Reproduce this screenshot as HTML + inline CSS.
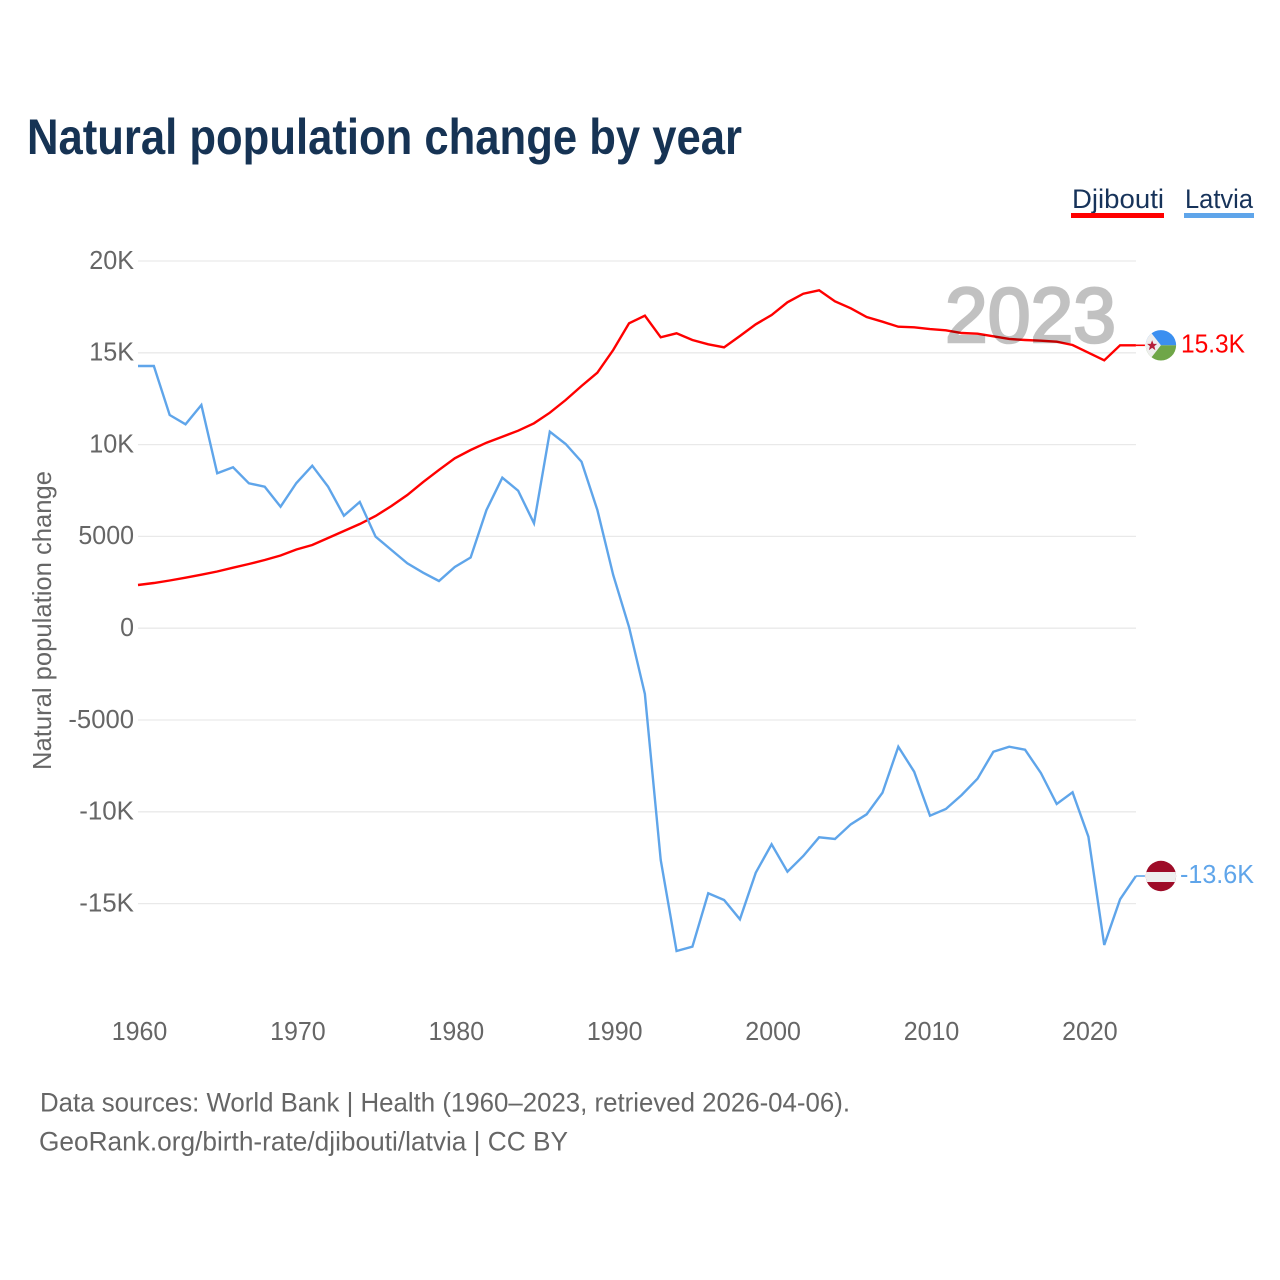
<!DOCTYPE html>
<html lang="en">
<head>
<meta charset="utf-8">
<title>Natural population change by year</title>
<style>
html,body{margin:0;padding:0;background:#fff;}
svg{display:block;font-family:"Liberation Sans",sans-serif;}
</style>
</head>
<body>
<svg id="chart" xmlns="http://www.w3.org/2000/svg" width="1280" height="1280" viewBox="0 0 1280 1280">
  <defs>
    <clipPath id="flag-clip"><circle cx="0" cy="0" r="15.2"></circle></clipPath>
  </defs>
  <rect width="1280" height="1280" fill="#fff"></rect>
  <text x="27" y="154" font-size="50" font-weight="700" fill="#163354" textLength="715" lengthAdjust="spacingAndGlyphs">Natural population change by year</text>

  <text x="1072" y="208" font-size="27" fill="#17335a" textLength="92" lengthAdjust="spacingAndGlyphs">Djibouti</text>
  <rect x="1071" y="213" width="93" height="5" fill="#ff0000"></rect>
  <text x="1185" y="208" font-size="27" fill="#17335a" textLength="68" lengthAdjust="spacingAndGlyphs">Latvia</text>
  <rect x="1184" y="213" width="70" height="5" fill="#5fa5ea"></rect>

  <g id="grid"></g>
  <g id="y-ticks"></g>
  <g id="x-ticks"></g>
  <text transform="translate(51,770) rotate(-90)" font-size="26" fill="#666" textLength="299" lengthAdjust="spacingAndGlyphs">Natural population change</text>

  <g id="series"></g>

  <g opacity="0.24">
    <text x="945" y="342" font-size="78" fill="#000" stroke="#000" stroke-width="2.6" textLength="171" lengthAdjust="spacingAndGlyphs">2023</text>
  </g>

  <g id="flag-djibouti">
    <g clip-path="url(#flag-clip)">
      <rect x="-16" y="-16" width="32" height="16" fill="#3b8ff0"></rect>
      <rect x="-16" y="0" width="32" height="16" fill="#6fa648"></rect>
      <polygon points="-18,-16 -12.5,-16 0,0 -12.5,16 -18,16" fill="#eeeeee"></polygon>
      <polygon points="-8.8,-5 -7.4,-1.4 -3.8,-1.4 -6.6,1 -5.6,4.8 -8.8,2.6 -12,4.8 -11,1 -13.8,-1.4 -10.2,-1.4" fill="#b5203a"></polygon>
    </g>
  </g>
  <text id="label-djibouti" x="1181" font-size="26" fill="#ff0000" textLength="64" lengthAdjust="spacingAndGlyphs">15.3K</text>

  <g id="flag-latvia">
    <g clip-path="url(#flag-clip)">
      <rect x="-16" y="-16" width="32" height="32" fill="#9e0c28"></rect>
      <rect x="-16" y="-4" width="32" height="10" fill="#eeeeee"></rect>
    </g>
  </g>
  <text id="label-latvia" x="1180" font-size="26" fill="#5fa5ea" textLength="74" lengthAdjust="spacingAndGlyphs">-13.6K</text>

  <text x="40" y="1111.5" font-size="27" fill="#666" textLength="810" lengthAdjust="spacingAndGlyphs">Data sources: World Bank | Health (1960–2023, retrieved 2026-04-06).</text>
  <text x="39" y="1150.5" font-size="27" fill="#666" textLength="529" lengthAdjust="spacingAndGlyphs">GeoRank.org/birth-rate/djibouti/latvia | CC BY</text>
</svg>
<script>
const startYear = 1960;
const yTickValues = [20000, 15000, 10000, 5000, 0, -5000, -10000, -15000];
const yTickLabels = ['20K', '15K', '10K', '5000', '0', '-5000', '-10K', '-15K'];
const xTickYears = [1960, 1970, 1980, 1990, 2000, 2010, 2020];
const xTickLabels = ['1960', '1970', '1980', '1990', '2000', '2010', '2020'];
const djibouti = [2353,2462,2598,2751,2914,3088,3295,3497,3715,3960,4286,4532,4913,5294,5675,6111,6656,7255,7960,8620,9254,9706,10103,10430,10757,11160,11737,12429,13192,13916,15152,16607,17021,15844,16062,15697,15463,15299,15915,16552,17059,17750,18219,18404,17805,17424,16950,16694,16421,16389,16296,16225,16078,16040,15899,15752,15697,15659,15605,15425,15005,14591,15408,15408];
const latvia = [14281,14281,11612,11106,12157,8437,8764,7892,7707,6618,7908,8851,7707,6127,6874,4984,4259,3535,3023,2571,3333,3851,6438,8197,7489,5713,10703,10033,9069,6438,2898,65,-3584,-12625,-17581,-17347,-14439,-14804,-15855,-13317,-11770,-13262,-12407,-11389,-11481,-10681,-10136,-8960,-6454,-7816,-10212,-9847,-9085,-8197,-6727,-6454,-6618,-7887,-9575,-8938,-11356,-17255,-14766,-13497];

const NS = 'http://www.w3.org/2000/svg';
const xOf = function (year) { return 138 + (year - startYear) * 15.84; };
const yOf = function (value) { return 628.2 - value * 0.01836; };
const labelWidth = function (label) {
  let w = 0;
  for (const ch of label) {
    w += ch === 'K' ? 17 : ch === '-' ? 10 : 13.9;
  }
  return w;
};
const make = function (tag, parent) {
  const el = document.createElementNS(NS, tag);
  parent.appendChild(el);
  return el;
};

const grid = document.getElementById('grid');
const yTicks = document.getElementById('y-ticks');
yTickValues.forEach(function (value, i) {
  const line = make('line', grid);
  
  
  line.setAttribute('x1', 138);
  line.setAttribute('x2', 1136);
  line.setAttribute('y1', yOf(value));
  line.setAttribute('y2', yOf(value));
  line.setAttribute('stroke', '#e9e9e9');
  line.setAttribute('stroke-width', '1.3');

  const text = make('text', yTicks);
  
  
  text.setAttribute('x', 134);
  text.setAttribute('y', yOf(value) + 7.8);
  text.setAttribute('text-anchor', 'end');
  text.setAttribute('font-size', '26');
  text.setAttribute('fill', '#666');
  text.setAttribute('textLength', labelWidth(yTickLabels[i]));
  text.setAttribute('lengthAdjust', 'spacingAndGlyphs');
  text.textContent = yTickLabels[i];
});

const xTicks = document.getElementById('x-ticks');
xTickYears.forEach(function (year, i) {
  const text = make('text', xTicks);
  
  
  text.setAttribute('x', xOf(year) + 1.5);
  text.setAttribute('y', 1040);
  text.setAttribute('text-anchor', 'middle');
  text.setAttribute('font-size', '26');
  text.setAttribute('fill', '#666');
  text.setAttribute('textLength', labelWidth(xTickLabels[i]));
  text.setAttribute('lengthAdjust', 'spacingAndGlyphs');
  text.textContent = xTickLabels[i];
});

const seriesGroup = document.getElementById('series');
const drawSeries = function (values, color, name) {
  const points = values.map(function (v, i) {
    return xOf(startYear + i).toFixed(2) + ',' + yOf(v).toFixed(2);
  }).join(' ');
  const line = make('polyline', seriesGroup);
  
  
  line.setAttribute('points', points);
  line.setAttribute('fill', 'none');
  line.setAttribute('stroke', color);
  line.setAttribute('stroke-width', '2.4');
  line.setAttribute('stroke-linejoin', 'miter');

  const lastX = xOf(startYear + values.length - 1);
  const lastY = yOf(values[values.length - 1]);
  const lead = make('line', seriesGroup);
  
  
  lead.setAttribute('x1', lastX);
  lead.setAttribute('x2', lastX + 9);
  lead.setAttribute('y1', lastY);
  lead.setAttribute('y2', lastY);
  lead.setAttribute('stroke', color);
  lead.setAttribute('stroke-width', '1.6');
};
drawSeries(djibouti, '#ff0000', 'series-line-djibouti');
drawSeries(latvia, '#5fa5ea', 'series-line-latvia');

const placeEnd = function (values, flagId, labelId) {
  const lastX = xOf(startYear + values.length - 1);
  const lastY = yOf(values[values.length - 1]);
  document.getElementById(flagId).setAttribute('transform', 'translate(' + (lastX + 25) + ',' + lastY + ')');
  document.getElementById(labelId).setAttribute('y', lastY + 7);
};
placeEnd(djibouti, 'flag-djibouti', 'label-djibouti');
placeEnd(latvia, 'flag-latvia', 'label-latvia');
</script>
</body>
</html>
